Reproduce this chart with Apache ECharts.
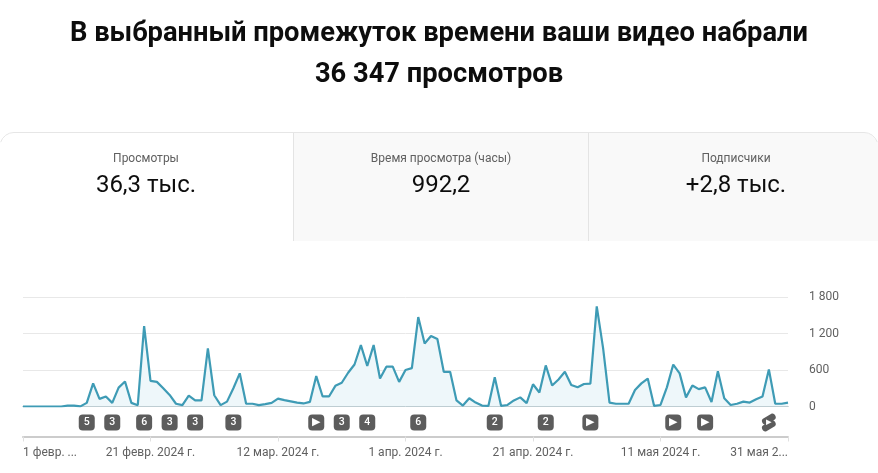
<!DOCTYPE html>
<html>
<head>
  <meta charset="utf-8">
  <script src="https://cdn.jsdelivr.net/npm/echarts@6/dist/echarts.min.js"></script>
  <style>
    body { margin: 0; padding: 0; background: #fff; }
    #chart { width: 878px; height: 473px; }
  </style>
</head>
<body>
  <div id="chart"></div>
  <script>
    const views = [
      0, 0, 0, 0, 0, 0, 0, 15, 15, 2,
      60, 380, 125, 165, 60, 310, 410, 60, 22, 1320,
      420, 405, 300, 190, 45, 22, 180, 100, 100, 955,
      185, 22, 80, 300, 545, 45, 45, 22, 40, 60,
      130, 105, 85, 65, 50, 75, 500, 165, 165, 340,
      390, 555, 690, 1010, 665, 1010, 460, 655, 655, 405,
      600, 630, 1470, 1035, 1160, 1110, 570, 570, 100, 15,
      135, 65, 15, 10, 480, 10, 25, 100, 150, 55,
      365, 230, 675, 345, 445, 570, 355, 315, 370, 375,
      1645, 955, 65, 45, 45, 45, 270, 380, 460, 10,
      25, 315, 690, 545, 150, 345, 285, 315, 75, 580,
      135, 25, 45, 80, 65, 120, 165, 610, 45, 45, 65
    ];
    const tickDays = [0, 20, 40, 60, 80, 100, 120];
    const tickLabels = ['1 февр. ...', '21 февр. 2024 г.', '12 мар. 2024 г.', '1 апр. 2024 г.', '21 апр. 2024 г.', '11 мая 2024 г.', '31 мая 2...'];
    const yTicks = { 0: '0', 600: '600', 1200: '1 200', 1800: '1 800' };
    const badgeDays = [10, 14, 19, 23, 27, 33, 46, 50, 54, 62, 74, 82, 89, 102, 107, 117];
    const badgeLabels = ['5', '3', '6', '3', '3', '3', '▶', '3', '4', '6', '2', '2', '▶', '▶', '▶', 'shorts'];
    const cardTitles = ['Просмотры', 'Время просмотра (часы)', 'Подписчики'];
    const cardValues = ['36,3 тыс.', '992,2', '+2,8 тыс.'];
    const headline = 'В выбранный промежуток времени ваши видео набрали\n36 347 просмотров';

    const fontFamily = 'Roboto';
    // two slanted capsules overlapping, like the Shorts logo
    const shortsPath = 'path://M12.94 1.57L2.94 7.57C-0.5 9.6 3.6 16.5 7.06 14.43L17.06 8.43C20.5 6.4 16.4-0.5 12.94 1.57Z'
      + 'M12.94 9.57L2.94 15.57C-0.5 17.6 3.6 24.5 7.06 22.43L17.06 16.43C20.5 14.4 16.4 7.5 12.94 9.57Z';
    const categories = views.map((v, i) => {
      const t = tickDays.indexOf(i);
      return t >= 0 ? tickLabels[t] : String(i);
    });

    const cardCenters = [146, 441, 736];
    const borderColor = '#e6e6e6';
    const graphics = [
      { type: 'rect', z: 0, shape: { x: 293, y: 133, width: 585, height: 108, r: [0, 14, 0, 0] }, style: { fill: '#f9f9f9' } },
      { type: 'line', z: 1, shape: { x1: 14, y1: 132.5, x2: 864, y2: 132.5 }, style: { stroke: borderColor, lineWidth: 1 } },
      { type: 'arc', z: 1, shape: { cx: 14, cy: 146.5, r: 14, startAngle: Math.PI * 1.1, endAngle: Math.PI * 1.5, clockwise: true }, style: { stroke: borderColor, lineWidth: 1, fill: 'none' } },
      { type: 'arc', z: 1, shape: { cx: 864, cy: 146.5, r: 14, startAngle: Math.PI * 1.5, endAngle: Math.PI * 1.9, clockwise: true }, style: { stroke: borderColor, lineWidth: 1, fill: 'none' } },
      { type: 'line', z: 3, shape: { x1: 293.5, y1: 133, x2: 293.5, y2: 241 }, style: { stroke: '#e4e4e4', lineWidth: 1 } },
      { type: 'line', z: 3, shape: { x1: 588.5, y1: 133, x2: 588.5, y2: 241 }, style: { stroke: '#e4e4e4', lineWidth: 1 } }
    ];
    cardTitles.forEach((t, i) => {
      graphics.push({ type: 'text', z: 4, x: cardCenters[i], y: 158.5, style: { text: t, fill: '#606060', font: '12px ' + fontFamily, textAlign: 'center', textVerticalAlign: 'middle' } });
      graphics.push({ type: 'text', z: 4, x: cardCenters[i], y: 186, style: { text: cardValues[i], fill: '#0d0d0d', font: '24px ' + fontFamily, textAlign: 'center', textVerticalAlign: 'middle' } });
    });

    const badges = badgeDays.map((d, i) => {
      const shorts = badgeLabels[i] === 'shorts';
      return {
        coord: [d, 0],
        symbol: shorts ? shortsPath : 'roundRect',
        symbolSize: shorts ? [14, 18] : 16,
        symbolOffset: [0, 16],
        label: { formatter: shorts ? '▸' : badgeLabels[i], fontSize: badgeLabels[i] === '▶' ? 11 : 10.5 }
      };
    });

    const chart = echarts.init(document.getElementById('chart'), null, { renderer: 'canvas' });
    chart.setOption({
      animation: false,
      title: {
        text: headline,
        left: 'center',
        top: 9,
        textStyle: { fontFamily: fontFamily, fontSize: 27.3, fontWeight: 700, color: '#0d0d0d', lineHeight: 41 }
      },
      graphic: graphics,
      grid: { left: 23, right: 90, top: 297, bottom: 66.5 },
      xAxis: [
        {
          type: 'category',
          data: categories,
          boundaryGap: false,
          position: 'bottom',
          offset: 30,
          axisLine: { onZero: false, lineStyle: { color: '#cccccc', width: 2 } },
          axisTick: { length: 5, lineStyle: { color: '#e0e0e0' }, interval: (i) => tickDays.includes(i) },
          axisLabel: {
            interval: (i) => tickDays.includes(i),
            margin: 10,
            color: '#606060',
            fontSize: 12,
            fontFamily: fontFamily,
            alignMinLabel: 'left',
            alignMaxLabel: 'right',
            hideOverlap: false
          },
          splitLine: { show: false }
        },
        {
          type: 'category',
          data: categories,
          boundaryGap: false,
          position: 'bottom',
          axisLine: { onZero: false, lineStyle: { color: '#8fa3ab', width: 1 } },
          axisTick: { show: false },
          axisLabel: { show: false }
        }
      ],
      yAxis: {
        type: 'value',
        position: 'right',
        min: 0,
        max: 1800,
        interval: 600,
        axisLine: { show: false },
        axisTick: { show: false },
        axisLabel: {
          margin: 21,
          color: '#606060',
          fontSize: 12,
          fontFamily: fontFamily,
          formatter: (v) => yTicks[v]
        },
        splitLine: { lineStyle: { color: '#e8e8e8', width: 1 } }
      },
      series: [{
        type: 'line',
        data: views,
        showSymbol: false,
        lineStyle: { color: '#3e9bb5', width: 2.2 },
        itemStyle: { color: '#3e9bb5' },
        areaStyle: { color: '#eef7fa', opacity: 1 },
        markPoint: {
          silent: true,
          itemStyle: { color: '#5c5c5c' },
          label: { position: 'inside', color: '#fff', fontFamily: fontFamily, fontWeight: 500 },
          data: badges
        }
      }]
    });
  </script>
</body>
</html>
